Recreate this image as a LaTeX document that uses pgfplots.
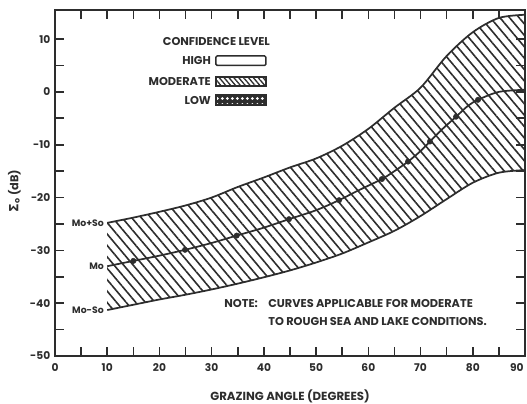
\documentclass[border=0pt]{standalone}
\usepackage{pgfplots}
\pgfplotsset{compat=1.18}
\usepgfplotslibrary{fillbetween}
\usetikzlibrary{patterns.meta,calc}
\usepackage{fontspec}
\setmainfont{Poppins}
\newfontfamily\greekfont{DejaVu Sans}
\definecolor{ink}{RGB}{45,45,45}
\newcommand\lbl{\bfseries\fontsize{8.5}{9}\selectfont}
\newcommand\tlbl{\bfseries\fontsize{8}{9}\selectfont}
\newcommand\slbl{\bfseries\fontsize{7}{8}\selectfont}

\pgfplotstableread{
x y
10 -24.8
15 -23.8
20 -22.7
25 -21.5
30 -20.0
35 -18.0
40 -16.2
45 -14.3
50 -12.6
55 -10.2
60 -7.0
65 -3.0
70 0.8
75 6.8
80 11.3
85 14.0
90 14.6
}\tabUp

\pgfplotstableread{
x y
10 -33
15 -32
20 -31
24.9 -29.9
30 -28.6
34.8 -27.2
40 -25.7
44.8 -24.1
50 -22.4
54.4 -20.5
58 -18.7
62.6 -16.5
65 -15
67.6 -13.2
70 -11.2
71.8 -9.4
74 -7.2
76.8 -4.7
79 -2.7
81 -1.5
85 0
90 0.4
}\tabMo

\pgfplotstableread{
x y
15 -32
24.9 -29.9
34.8 -27.2
44.8 -24.1
54.4 -20.5
62.6 -16.5
67.6 -13.2
71.8 -9.4
76.8 -4.7
81 -1.5
}\tabDots

\pgfplotstableread{
x y
10 -41.3
15 -40.3
20 -39.3
25 -38.4
30 -37.4
35 -36.3
40 -35.1
45 -33.8
50 -32.3
55 -30.6
60 -28.5
65 -26.3
70 -23.5
75 -20.3
80 -17.2
85 -15.3
90 -14.8
}\tabLo

\begin{document}
\begin{tikzpicture}
\begin{axis}[
  name=ax,
  scale only axis, width=352.5pt, height=259.5pt,
  xmin=0, xmax=90, ymin=-50, ymax=15.5,
  xtick={0,10,...,90}, minor x tick num=1,
  xticklabels={0,10,20,30,40,50,60,70,80,\makebox[0pt][r]{90\hspace{1pt}}},
  ytick={-50,-40,...,10}, minor y tick num=1,
  yticklabels={-50,-40,-30,-20,-10,0,10},
  tick align=inside, major tick length=6.5pt, minor tick length=6.5pt,
  axis line style={line width=1.6pt, ink},
  every tick/.style={ink, line width=1.2pt},
  tick label style={font=\tlbl, text=ink},
  xticklabel style={yshift=-2pt},
  xlabel={GRAZING ANGLE (DEGREES)},
  ylabel={{\greekfont\bfseries\fontsize{9.5}{10}\selectfont Σ}\textsubscript{o} (dB)},
  label style={font=\lbl, text=ink},
  xlabel style={yshift=-7pt, font=\bfseries\fontsize{8.8}{9}\selectfont},
  ylabel style={yshift=0pt, xshift=-6pt},
]
\addplot[name path=up, ink, line width=1.3pt, smooth] table {\tabUp};
\addplot[name path=lo, ink, line width=1.3pt, smooth] table {\tabLo};
\addplot[draw=none, pattern={Lines[angle=-50,distance=5.5pt,line width=1.2pt]}, pattern color=ink] fill between[of=up and lo];
\addplot[ink, line width=1.3pt, smooth] table {\tabMo};
\addplot[only marks, mark=*, mark size=2pt, ink] table {\tabDots};

\node[anchor=east, inner sep=0, font=\slbl, text=ink] at (axis cs:9.4,-24.8) {Mo+So};
\node[anchor=east, inner sep=0, font=\slbl, text=ink] at (axis cs:9.4,-33) {Mo};
\node[anchor=east, inner sep=0, font=\slbl, text=ink] at (axis cs:9.4,-41.3) {Mo-So};

\node[anchor=east, inner sep=0, font=\lbl, text=ink] at (axis cs:41.2,9.5) {CONFIDENCE LEVEL};
\node[anchor=east, inner sep=0, font=\lbl, text=ink] at (axis cs:29.9,5.9) {HIGH};
\node[anchor=east, inner sep=0, font=\lbl, text=ink] at (axis cs:29.9,1.95) {MODERATE};
\node[anchor=east, inner sep=0, font=\lbl, text=ink] at (axis cs:29.9,-1.55) {LOW};
\draw[ink, line width=1.1pt, rounded corners=1pt] (axis cs:30.8,6.8) rectangle (axis cs:40.4,5.0);
\fill[pattern={Lines[angle=-50,distance=2.8pt,line width=1pt]}, pattern color=ink] (axis cs:30.8,2.8) rectangle (axis cs:40.4,1.1);
\draw[ink, line width=1.1pt] (axis cs:30.8,2.8) rectangle (axis cs:40.4,1.1);
\fill[ink] (axis cs:30.8,-0.6) rectangle (axis cs:40.4,-2.5);
\fill[pattern={Dots[distance=4pt,radius=1.2pt]}, pattern color=white] (axis cs:30.8,-0.6) rectangle (axis cs:40.4,-2.5);
\draw[ink, line width=1.1pt] (axis cs:30.8,-0.6) rectangle (axis cs:40.4,-2.5);

\node[anchor=west, inner sep=0, font=\lbl, text=ink] at (axis cs:32.4,-40) {NOTE:};
\node[anchor=west, inner sep=0, font=\lbl, text=ink] at (axis cs:40.8,-40) {CURVES APPLICABLE FOR MODERATE};
\node[anchor=west, inner sep=0, font=\lbl, text=ink] at (axis cs:40.8,-43.4) {TO ROUGH SEA AND LAKE CONDITIONS.};
\end{axis}
\pgfresetboundingbox
\path ($(ax.south west)+(-41.25pt,-35.25pt)$) rectangle ($(ax.north east)+(1.5pt,7.5pt)$);
\end{tikzpicture}
\end{document}
